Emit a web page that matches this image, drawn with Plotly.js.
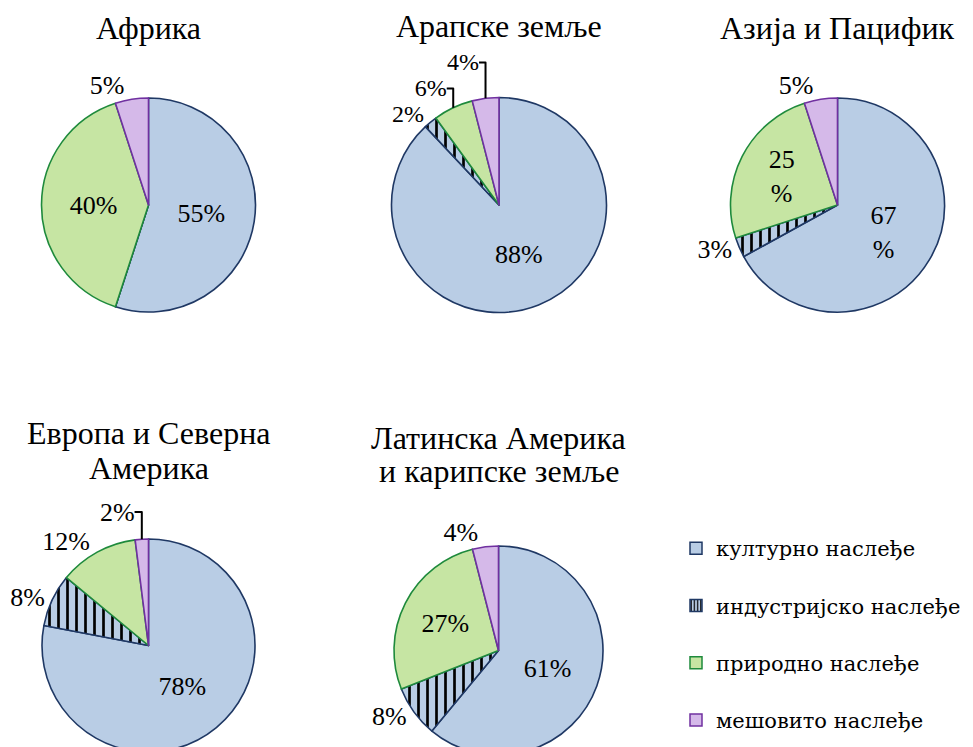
<!DOCTYPE html>
<html>
<head>
<meta charset="utf-8">
<script src="https://cdn.plot.ly/plotly-3.0.1.min.js"></script>
<style>
html,body{margin:0;padding:0;overflow:hidden;background:#fff;}
#chart{width:973px;height:756px;}
</style>
</head>
<body>
<div id="chart"></div>
<script>
// ---- data ----
const categories = ['културно наслеђе', 'индустријско наслеђе', 'природно наслеђе', 'мешовито наслеђе'];
const regions = ['Африка', 'Арапске земље', 'Азија и Пацифик', 'Европа и Северна<br>Америка', 'Латинска Америка<br>и карипске земље'];
const africa = [55, 0, 40, 5];
const arab = [88, 2, 6, 4];
const asia = [67, 3, 25, 5];
const europe = [78, 8, 12, 2];
const latin = [61, 8, 27, 4];

// ---- styling ----
const W = 973, H = 756;
const FONT = 'Liberation Serif';
const LEGFONT = 'DejaVu Serif';
const fills = ['#B9CDE5', '#B9CDE5', '#C6E5A3', '#D5B9E9'];
const edges = ['#1F3864', '#1F3864', '#1E8A3C', '#7030A0'];
const shapes = ['', '|', '', ''];

function dom(cx, cy, r) {
  return {x: [(cx - r) / W, (cx + r) / W], y: [1 - (cy + r) / H, 1 - (cy - r) / H]};
}

const pies = [
  {vals: africa, d: dom(148.5, 205, 107), pos: ['inside', 'inside', 'inside', 'outside'], br: false, out: 26},
  {vals: arab, d: dom(499, 205, 107.5), pos: ['inside', 'outside', 'outside', 'outside'], br: false, out: 24},
  {vals: asia, d: dom(837.5, 205, 107), pos: ['inside', 'outside', 'inside', 'outside'], br: true, out: 26},
  {vals: europe, d: dom(148.5, 645.5, 106.5), pos: ['inside', 'outside', 'outside', 'outside'], br: false, out: 26},
  {vals: latin, d: dom(498.5, 650.5, 104.5), pos: ['inside', 'outside', 'inside', 'outside'], br: false, out: 26}
];

const traces = pies.map(p => ({
  type: 'pie', labels: categories, values: p.vals, sort: false, direction: 'clockwise', rotation: 0,
  domain: p.d, showlegend: false, hoverinfo: 'label+value', textinfo: 'text',
  text: p.vals.map((v, i) => v === 0 ? '' : (p.br && p.pos[i] === 'inside' ? v + '<br>%' : v + '%')),
  textposition: p.pos, insidetextorientation: 'horizontal',
  textfont: {family: FONT, size: 26, color: '#000'},
  outsidetextfont: {family: FONT, size: p.out, color: '#000'},
  marker: {colors: fills, line: {color: edges, width: 1.6},
    pattern: {shape: shapes, fgcolor: '#000', bgcolor: fills, size: 9, solidity: 0.3}}
}));

// legend entries: bar traces on a hidden, out-of-range axis, each in its own legend group
categories.forEach((c, i) => {
  traces.push({
    type: 'bar', x: [c], y: [0], name: c, legendgroup: 'g' + i,
    marker: {color: fills[i], line: {color: edges[i], width: 1.5},
      pattern: {shape: shapes[i], fgcolor: '#000', bgcolor: fills[i], size: 4, solidity: 0.4}},
    showlegend: true, hoverinfo: 'skip'
  });
});

// title line positions (pixel centres of each text line)
const titleX = [148.5, 499, 837.5, 148.5, 498.5];
const titleY = [[28], [26], [28], [433, 468], [438, 471]];
const ann = [];
regions.forEach((r, i) => {
  r.split('<br>').forEach((line, j) => {
    ann.push({
      text: line, showarrow: false, xref: 'paper', yref: 'paper',
      x: titleX[i] / W, y: 1 - titleY[i][j] / H, xanchor: 'center', yanchor: 'middle',
      font: {family: FONT, size: 32, color: '#000'}
    });
  });
});

const layout = {
  width: W, height: H, margin: {l: 0, r: 0, t: 0, b: 0, autoexpand: false}, font: {family: FONT},
  paper_bgcolor: '#fff', plot_bgcolor: 'rgba(0,0,0,0)',
  xaxis: {visible: false, domain: [0.995, 1]},
  yaxis: {visible: false, domain: [0.995, 1], range: [5, 6]},
  showlegend: true,
  legend: {x: 676 / W, y: 1 - 528 / H, xanchor: 'left', yanchor: 'top',
    font: {family: LEGFONT, size: 21, color: '#000'}, tracegroupgap: 27, bgcolor: 'rgba(0,0,0,0)'},
  annotations: ann
};

Plotly.newPlot('chart', traces, layout, {staticPlot: true});
</script>
</body>
</html>
